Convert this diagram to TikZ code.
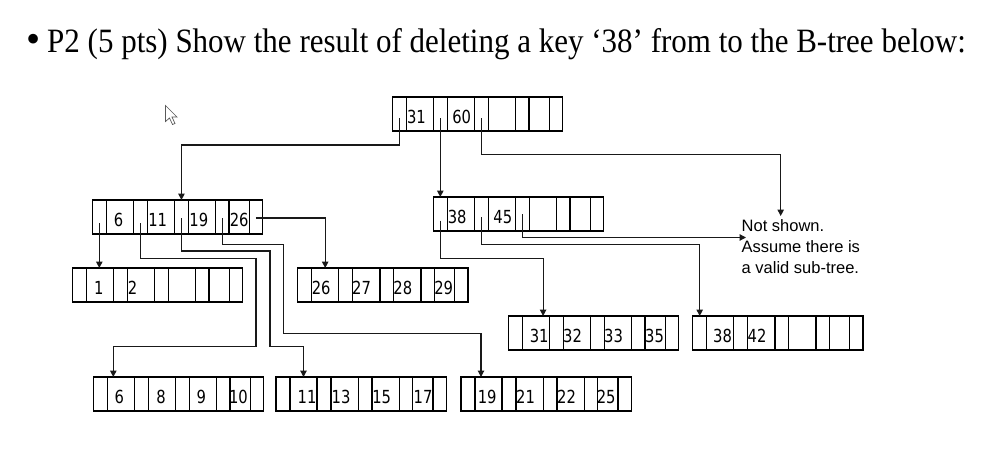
\documentclass[tikz,border=0pt]{standalone}
\usepackage{fontspec}
\setmainfont{Liberation Serif}
\newfontfamily\numfont[FakeStretch=0.82]{DejaVu Sans}
\newfontfamily\labfont{Liberation Sans}
\usetikzlibrary{arrows.meta,calc}
\tikzset{
  cell/.style={draw=none, minimum height=34pt, inner sep=0pt, outer sep=0pt, anchor=north west},
  boxline/.style={draw=black, line width=1.2pt},
  keytext/.style={font=\numfont\fontsize{18}{18}\selectfont, anchor=base, inner sep=0pt},
  conn/.style={draw=black!90, line width=1.15pt},
  arr/.style={conn, -{Triangle[length=6.5pt,width=6.5pt]}},
  titletext/.style={anchor=base west, inner sep=0pt, font=\fontsize{31}{31}\selectfont},
}
\newcommand{\btnode}[3]{%
  \foreach \i/\a/\b in {0/0/14,1/14/41,2/41/55,3/55/82.3,4/82.3/96,5/96/123.2,6/123.2/136.7,7/136.7/157,8/157/170.3}{%
    \node[cell, minimum width={(\b-\a)*1pt}] (#1-\i) at ({#2+\a},#3) {};
  }%
  \draw[boxline] (#1-0.north west) rectangle (#1-8.south east);
  \foreach \i in {0,...,7}{%
    \draw[boxline] (#1-\i.north east) -- (#1-\i.south east);
  }%
}
\begin{document}
\begin{tikzpicture}[x=1pt,y=-1pt]
\useasboundingbox (0,0) rectangle (1006,458);
\fill[white] (0,0) rectangle (1006,458);
% title
\node[titletext] (bullet) at (26.5,52) {\scalebox{1.3}{•}};
\node[titletext] (title) at (47,52) {\scalebox{1}[1.1]{P2 (5 pts) Show the result of deleting a key ‘38’ from to the B-tree below:}};
% cursor
\draw[draw=black!65, fill=white, line width=0.7pt] (165.5,105.5) -- ++(0,16) -- ++(4,-3.5) -- ++(3,6.5) -- ++(2.5,-1) -- ++(-3,-6.5) -- ++(5,0) -- cycle;
% nodes
\btnode{root}{392.3}{97}
\btnode{L}{92.3}{200}
\btnode{R}{433.3}{197}
\btnode{A}{72.3}{268}
\btnode{B}{297.7}{268}
\btnode{C}{508.3}{316}
\btnode{D}{692.7}{316}
\btnode{E}{93.3}{377}
\btnode{F}{276}{377}
\btnode{G}{461}{377}
% keys
\node[keytext] (rk1) at (416.4,123) {31};
\node[keytext] (rk2) at (461.7,123) {60};
\node[keytext] (lk1) at (118.5,226) {6};
\node[keytext] (lk2) at (157.7,226) {11};
\node[keytext] (lk3) at (198.8,226) {19};
\node[keytext] (lk4) at (239.2,226) {26};
\node[keytext] (rrk1) at (457.2,223) {38};
\node[keytext] (rrk2) at (502.8,223) {45};
\node[keytext] (ak1) at (98.7,294) {1};
\node[keytext] (ak2) at (132.5,294) {2};
\node[keytext] (bk1) at (321.2,294) {26};
\node[keytext] (bk2) at (361.5,294) {27};
\node[keytext] (bk3) at (402.8,294) {28};
\node[keytext] (bk4) at (443.7,294) {29};
\node[keytext] (ck1) at (539.2,342) {31};
\node[keytext] (ck2) at (572.5,342) {32};
\node[keytext] (ck3) at (613.5,342) {33};
\node[keytext] (ck4) at (654.5,342) {35};
\node[keytext] (dk1) at (722.5,342) {38};
\node[keytext] (dk2) at (757,342) {42};
\node[keytext] (ek1) at (119.3,403) {6};
\node[keytext] (ek2) at (161.1,403) {8};
\node[keytext] (ek3) at (201.3,403) {9};
\node[keytext] (ek4) at (238.5,403) {10};
\node[keytext] (fk1) at (307,403) {11};
\node[keytext] (fk2) at (341,403) {13};
\node[keytext] (fk3) at (381.7,403) {15};
\node[keytext] (fk4) at (423,403) {17};
\node[keytext] (gk1) at (487.2,403) {19};
\node[keytext] (gk2) at (525.5,403) {21};
\node[keytext] (gk3) at (566.5,403) {22};
\node[keytext] (gk4) at (606.2,403) {25};
% note
\node[anchor=north west, inner sep=0pt, align=left, font=\labfont\fontsize{16.5}{21}\selectfont] (ns) at (741.5,219.5) {Not shown.\\Assume there is\\a valid sub-tree.};
\coordinate (nsA) at ($(ns.north west)+(39.2,-3.5)$);
\coordinate (nsB) at ($(ns.north west)+(4.5,18)$);
% root pointers
\draw[arr] ($(root-0.center)+(0,4)$) |- ($(L-4.north)+(0,-55)$) -- (L-4.north);
\draw[arr] ($(root-2.center)+(0,4)$) -- (R-0.north);
\draw[arr] ($(root-4.center)+(0,4)$) |- ($(nsA)+(0,-61.5)$) -- (nsA);
% L pointers
\draw[arr] ($(L-0.center)+(0,6)$) -- (L-0.center |- A-1.north);
\draw[arr] ($(L-2.center)+(0,6)$) |- (255.95,258.3) |- ($(E-1.north west)+(6,-30.3)$) -- ($(E-1.north west)+(6,0)$);
\draw[arr] ($(L-4.center)+(0,1)$) |- (270,251) |- ($(F-1.north)+(0,-30.3)$) -- (F-1.north);
\draw[arr] ($(L-6.center)+(0,1)$) |- (283.3,244.3) |- ($(G-1.north west)+(6,-43.7)$) -- ($(G-1.north west)+(6,0)$);
\draw[arr] ($(L-8.center)+(0,1)$) -| (B-1.north);
% R pointers
\draw[arr] ($(R-0.center)+(0,6.5)$) |- ($(C-1.north)+(7.3,-57.7)$) -- ($(C-1.north)+(7.3,0)$);
\draw[arr] ($(R-2.center)+(0,3)$) |- ($(D-0.north)+(0,-71.5)$) -- (D-0.north);
\draw[arr] (R-4.center) |- (nsB);
\end{tikzpicture}
\end{document}
